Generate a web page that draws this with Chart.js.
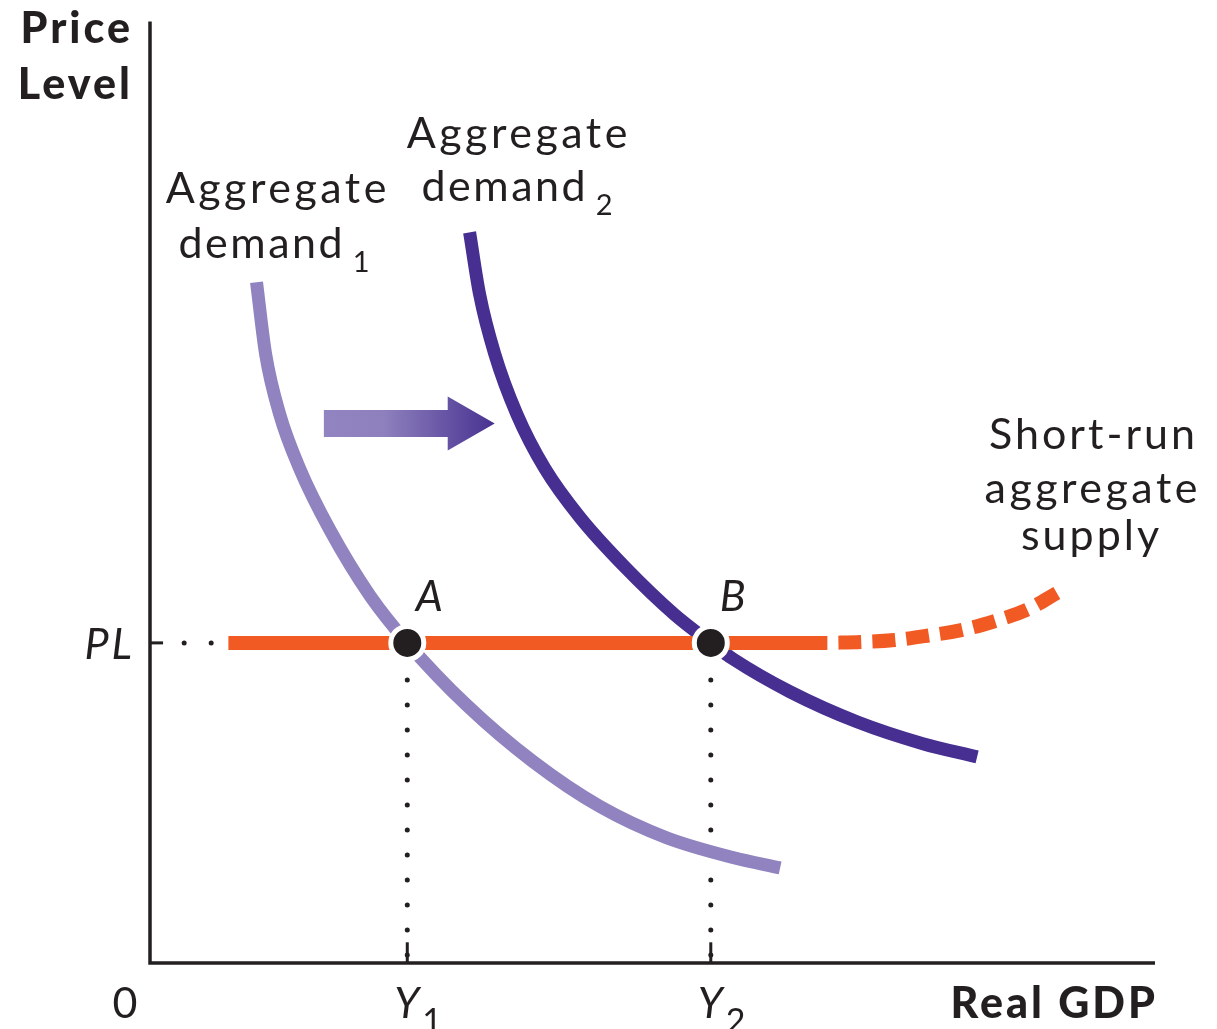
<!DOCTYPE html>
<html>
<head>
<meta charset="utf-8">
<script src="https://cdn.jsdelivr.net/npm/chart.js@4.4.0/dist/chart.umd.min.js"></script>
<style>
  html, body { margin: 0; padding: 0; background: #ffffff; }
  canvas { display: block; }
</style>
</head>
<body>
<canvas id="chart" width="1217" height="1029"></canvas>
<script>
// Rightward shift of aggregate demand along a flat short-run aggregate supply curve.
// Both axes run 0..100 in arbitrary units.

const priceLevel = 34.0;              // PL
const outputLevels = [25.6, 55.8];    // Y1, Y2
const pointNames = ['A', 'B'];

// Aggregate demand 1 (before the shift)
const demand1X = [10.6, 11.5, 12.9, 14.9, 17.9, 21.9, 25.6, 31.5, 38.1, 44.8, 51.4, 58.0, 62.7];
const demand1Y = [72.3, 64.7, 58.3, 52.5, 46.0, 39.0, 34.0, 27.4, 21.4, 16.6, 13.3, 11.2, 10.1];

// Aggregate demand 2 (after the shift)
const demand2X = [31.8, 32.8, 34.3, 36.5, 39.3, 42.8, 47.3, 52.2, 55.8, 58.0, 63.7, 70.4, 76.9, 82.3];
const demand2Y = [77.6, 71.0, 64.7, 58.3, 52.5, 47.3, 42.0, 37.0, 34.0, 32.3, 28.8, 25.6, 23.3, 21.9];

// Short-run aggregate supply: flat stretch, then a rising dashed stretch
const supplyFlatX = [7.8, 67.4];
const supplyRiseX = [67.4, 70.9, 74.1, 77.6, 80.9, 84.3, 87.4, 90.4];
const supplyRiseY = [34.0, 34.1, 34.3, 34.8, 35.4, 36.4, 37.6, 39.4];

// Shift arrow between the two demand curves
const arrowTailX = 17.3;
const arrowTipX = 34.3;
const arrowY = 57.3;

// Dotted guide from the price-level tick toward the supply curve
const plGuideX = [3.4, 6.1];

const INK = '#231f20';
const ORANGE = '#f15a22';
const LIGHT_PURPLE = '#9183bf';
const DARK_PURPLE = '#472f92';
const FONT = 'Lato, "Open Sans", sans-serif';

const pts = (xs, ys) => xs.map((x, i) => ({ x, y: ys[i] }));

const datasets = [
  // equilibrium points
  {
    data: outputLevels.map(x => ({ x, y: priceLevel })),
    showLine: false,
    pointRadius: 16.5,
    pointBackgroundColor: INK,
    pointBorderColor: '#ffffff',
    pointBorderWidth: 5,
    order: 0
  },
  // SRAS flat solid part
  {
    data: supplyFlatX.map(x => ({ x, y: priceLevel })),
    showLine: true, borderColor: ORANGE, borderWidth: 14, pointRadius: 0,
    borderCapStyle: 'butt', order: 1
  },
  // SRAS rising dashed part
  {
    data: pts(supplyRiseX, supplyRiseY),
    showLine: true, borderColor: ORANGE, borderWidth: 14, pointRadius: 0,
    borderDash: [23, 11], borderDashOffset: 23, borderCapStyle: 'butt',
    tension: 0.4, order: 1
  },
  // AD1
  {
    data: pts(demand1X, demand1Y),
    showLine: true, borderColor: LIGHT_PURPLE, borderWidth: 13, pointRadius: 0,
    borderCapStyle: 'butt', cubicInterpolationMode: 'monotone', order: 2
  },
  // AD2
  {
    data: pts(demand2X, demand2Y),
    showLine: true, borderColor: DARK_PURPLE, borderWidth: 13, pointRadius: 0,
    borderCapStyle: 'butt', cubicInterpolationMode: 'monotone', order: 2
  },
  // dotted drop lines from the equilibria
  ...outputLevels.map(x => ({
    data: [{ x, y: priceLevel }, { x, y: 0 }],
    showLine: true, borderColor: INK, borderWidth: 5, pointRadius: 0,
    borderDash: [0, 25], borderDashOffset: 13, borderCapStyle: 'round', order: 3
  })),
  // dotted price-level guide
  {
    data: plGuideX.map(x => ({ x, y: priceLevel })),
    showLine: true, borderColor: INK, borderWidth: 5, pointRadius: 0,
    borderDash: [0, 27], borderCapStyle: 'round', order: 3
  },
  // tick marks on the axes
  ...outputLevels.map(x => ({
    data: [{ x, y: 0 }, { x, y: 2.2 }],
    showLine: true, borderColor: INK, borderWidth: 3, pointRadius: 0, order: 3
  })),
  {
    data: [{ x: 0, y: priceLevel }, { x: 1.3, y: priceLevel }],
    showLine: true, borderColor: INK, borderWidth: 3, pointRadius: 0, order: 3
  },
  // axes
  {
    data: [{ x: 0, y: 100 }, { x: 0, y: 0 }, { x: 100, y: 0 }],
    showLine: true, borderColor: INK, borderWidth: 3.5, pointRadius: 0,
    borderCapStyle: 'butt', borderJoinStyle: 'miter', order: 3
  }
];

datasets.forEach(d => { d.clip = false; if (d.tension === undefined) d.tension = 0; });

function setSpacing(ctx, px) {
  if ('letterSpacing' in ctx) ctx.letterSpacing = px + 'px';
}

// Text with an optional subscript, anchored at (x, baseline)
function textWithSub(ctx, main, sub, x, y, align, mainFont, subFont, subDrop, gap, spacing) {
  setSpacing(ctx, spacing);
  ctx.font = mainFont;
  const wMain = ctx.measureText(main).width - spacing;
  ctx.font = subFont;
  const wSub = sub ? ctx.measureText(sub).width - spacing : 0;
  const total = wMain + (sub ? gap + wSub : 0);
  let left = x;
  if (align === 'center') left = x - total / 2;
  else if (align === 'right') left = x - total;
  ctx.textAlign = 'left';
  ctx.font = mainFont;
  ctx.fillText(main, left, y);
  if (sub) {
    ctx.font = subFont;
    ctx.fillText(sub, left + wMain + gap, y + subDrop);
  }
}

// Plain text line centred on x with letter spacing
function centred(ctx, text, x, y, font, spacing) {
  setSpacing(ctx, spacing);
  ctx.font = font;
  const w = ctx.measureText(text).width - spacing;
  ctx.textAlign = 'left';
  ctx.fillText(text, x - w / 2, y);
}

function rightAligned(ctx, text, x, y, font, spacing) {
  setSpacing(ctx, spacing);
  ctx.font = font;
  const w = ctx.measureText(text).width - spacing;
  ctx.textAlign = 'left';
  ctx.fillText(text, x - w, y);
}

const decorations = {
  id: 'decorations',
  beforeDatasetsDraw(chart) {
    const { ctx, scales: { x, y } } = chart;
    // shift arrow with a light-to-dark gradient
    const x0 = x.getPixelForValue(arrowTailX);
    const x1 = x.getPixelForValue(arrowTipX);
    const yc = y.getPixelForValue(arrowY);
    const headLen = 47, bodyHalf = 13.5, headHalf = 27;
    const grad = ctx.createLinearGradient(x0, 0, x1, 0);
    grad.addColorStop(0, '#9284c0');
    grad.addColorStop(0.35, '#8e80bd');
    grad.addColorStop(1, '#483291');
    ctx.save();
    ctx.fillStyle = grad;
    ctx.beginPath();
    ctx.moveTo(x0, yc - bodyHalf);
    ctx.lineTo(x1 - headLen, yc - bodyHalf);
    ctx.lineTo(x1 - headLen, yc - headHalf);
    ctx.lineTo(x1, yc);
    ctx.lineTo(x1 - headLen, yc + headHalf);
    ctx.lineTo(x1 - headLen, yc + bodyHalf);
    ctx.lineTo(x0, yc + bodyHalf);
    ctx.closePath();
    ctx.fill();
    ctx.restore();
  },
  afterDraw(chart) {
    const { ctx, scales: { x, y } } = chart;
    const left = x.getPixelForValue(0);
    const right = x.getPixelForValue(100);
    const bottom = y.getPixelForValue(0);
    const plY = y.getPixelForValue(priceLevel);
    ctx.save();
    ctx.fillStyle = INK;
    ctx.textBaseline = 'alphabetic';

    const bold = `900 43px ${FONT}`;
    const reg = `43px ${FONT}`;
    const ital = `italic 43px ${FONT}`;
    const sub = `29px ${FONT}`;
    const italSub = `34px ${FONT}`;

    // axis titles
    rightAligned(ctx, 'Price', left - 20, 43, bold, 3);
    rightAligned(ctx, 'Level', left - 20, 99, bold, 3);
    rightAligned(ctx, 'Real GDP', right, bottom + 55, bold, 3);

    // origin
    centred(ctx, '0', left - 25, bottom + 55, reg, 0);

    // PL
    rightAligned(ctx, 'PL', left - 18, plY + 16, ital, 3);

    // Y1, Y2
    outputLevels.forEach((v, i) => {
      const px = x.getPixelForValue(v);
      textWithSub(ctx, 'Y', String(i + 1), px - 13, bottom + 55, 'left', ital, italSub, 15, 3, 0);
    });

    // A, B
    outputLevels.forEach((v, i) => {
      const px = x.getPixelForValue(v);
      centred(ctx, pointNames[i], px + 22, plY - 32, ital, 0);
    });

    // curve labels
    centred(ctx, 'Aggregate', 276, 203, reg, 3.5);
    textWithSub(ctx, 'demand', '1', 274, 258, 'center', reg, sub, 14, 10, 2.5);
    centred(ctx, 'Aggregate', 517, 148, reg, 3.5);
    textWithSub(ctx, 'demand', '2', 517, 201, 'center', reg, sub, 14, 10, 2.5);

    centred(ctx, 'Short-run', 1092, 449, reg, 3);
    centred(ctx, 'aggregate', 1091, 503, reg, 3.5);
    centred(ctx, 'supply', 1090, 550, reg, 3);
    ctx.restore();
  }
};

new Chart(document.getElementById('chart'), {
  type: 'scatter',
  data: { datasets },
  options: {
    responsive: false,
    animation: false,
    events: [],
    layout: { padding: { left: 150, right: 62, top: 15, bottom: 66 } },
    plugins: { legend: { display: false }, tooltip: { enabled: false } },
    scales: {
      x: { type: 'linear', min: 0, max: 100, display: false },
      y: { type: 'linear', min: 0, max: 100, display: false }
    }
  },
  plugins: [decorations]
});
</script>
</body>
</html>
